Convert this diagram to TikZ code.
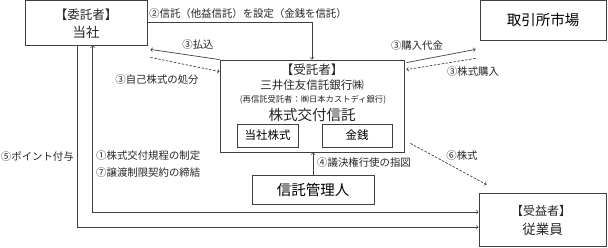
\documentclass[tikz,border=0pt]{standalone}
\usepackage{fontspec}
\setmainfont{Noto Sans CJK JP}
\newfontfamily\jpf{Noto Sans CJK JP}
\begin{document}
\begin{tikzpicture}[x=1pt,y=-1pt,
  box/.style={draw=black!75,line width=0.8pt,rectangle,inner sep=0pt,font=\jpf},
  lab/.style={font=\jpf\fontsize{10.4}{12}\selectfont,text=black!85,inner sep=0pt},
  conn/.style={draw=black!75,line width=0.7pt,->},
  dconn/.style={conn,dashed,dash pattern=on 2.5pt off 1.5pt}]
\useasboundingbox (0,0) rectangle (608,247);
\node[box,minimum width=122pt,minimum height=45pt] (itaku) at (86,22.5) {};
\node[lab,font=\jpf\fontsize{12.5}{14}\selectfont] (it1) at (86,14.5) {【委託者】};
\node[lab,font=\jpf\fontsize{13.5}{15}\selectfont] (it2) at (86,32) {当社};
\node[box,minimum width=126pt,minimum height=40pt] (torihiki) at (543,20)
  {\fontsize{14.5}{17}\selectfont 取引所市場};
\node[box,minimum width=184pt,minimum height=92pt] (jutaku) at (312,106) {};
\node[lab,font=\jpf\fontsize{12.5}{14}\selectfont] (t1) at (312,70) {【受託者】};
\node[lab,font=\jpf\fontsize{11.5}{14}\selectfont] (t2) at (312,85) {三井住友信託銀行㈱};
\node[lab,font=\jpf\fontsize{8.3}{10}\selectfont] (t3) at (313,100) {(再信託受託者：㈱日本カストディ銀行)};
\node[lab,font=\jpf\fontsize{14.5}{16}\selectfont] (t4) at (312,115) {株式交付信託};
\node[box,minimum width=61pt,minimum height=23pt] (tkabu) at (267.5,135.5)
  {\fontsize{11.5}{13}\selectfont 当社株式};
\node[box,minimum width=70pt,minimum height=23pt] (kinsen) at (357,135.5)
  {\fontsize{11.5}{13}\selectfont 金銭};
\node[box,minimum width=122pt,minimum height=29pt] (kanri) at (313,189.5)
  {\fontsize{14.5}{17}\selectfont 信託管理人};
\node[box,minimum width=127pt,minimum height=53pt] (jueki) at (542.5,219.5) {};
\node[lab,font=\jpf\fontsize{12}{14}\selectfont] (ju1) at (541,211) {【受益者】};
\node[lab,font=\jpf\fontsize{13.5}{15}\selectfont] (ju2) at (542.5,229) {従業員};
% connectors
\draw[conn] (itaku.east) -| (jutaku.north);
\node[lab,anchor=west] (l2) at (149,14) {②信託（他益信託）を設定（金銭を信託）};
\draw[conn] (jutaku.north west) -- ([xshift=3pt,yshift=-4pt]itaku.south east);
\node[lab] (l3a) at (198,45) {③払込};
\draw[dconn] ([xshift=3pt,yshift=-12pt]itaku.south east) -- ([yshift=-12pt]jutaku.north west);
\node[lab] (l3b) at (157,80) {③自己株式の処分};
\draw[conn] ([xshift=2pt,yshift=-3pt]jutaku.north east) -- ([xshift=-4pt,yshift=-9pt]torihiki.south west);
\node[lab] (l3c) at (417,46) {③購入代金};
\draw[dconn] ([xshift=-4pt,yshift=-18pt]torihiki.south west) -- ([xshift=2pt,yshift=-10pt]jutaku.north east);
\node[lab] (l3d) at (473,72) {③株式購入};
\draw[dconn] ([xshift=6pt,yshift=9pt]jutaku.south east) -- ([xshift=8pt,yshift=8pt]jueki.north west);
\node[lab] (l6) at (462,156) {⑥株式};
\draw[conn] (kanri.north) -- (kanri.north |- jutaku.south);
\node[lab,anchor=west] (l4) at (317,163) {④議決権行使の指図};
\coordinate (o1) at ([xshift=53pt]itaku.south west);
\coordinate (i1) at ([xshift=68pt]itaku.south west);
\draw[conn] (o1) |- ([yshift=-7.5pt]jueki.west);
\draw[conn,<->] (i1) |- ([yshift=7.5pt]jueki.west);
\node[lab,anchor=east] (l5) at (74,157) {⑤ポイント付与};
\node[lab,anchor=west] (l1) at (96,156) {①株式交付規程の制定};
\node[lab,anchor=west] (l7) at (96,173) {⑦譲渡制限契約の締結};
\end{tikzpicture}
\end{document}
